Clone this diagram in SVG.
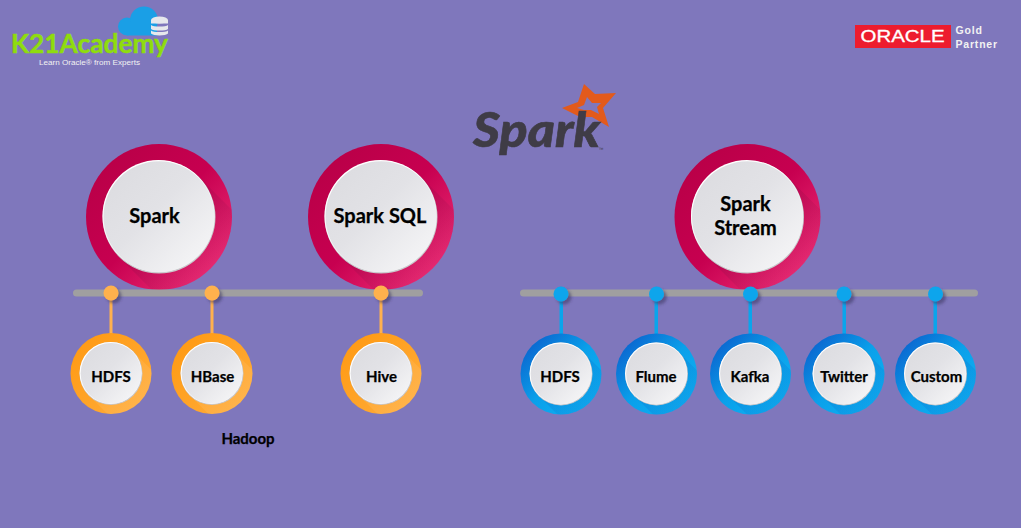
<svg xmlns="http://www.w3.org/2000/svg" width="1021" height="528" viewBox="0 0 1021 528">
<style>
text{font-family:"Lato","Open Sans","Liberation Sans",sans-serif;font-weight:700;fill:#000;text-anchor:middle;stroke:#000;stroke-width:.25px}
.big{font-size:20px}
.small{font-size:15px}
.bar{fill:#a09fa0}
.o{fill:#ffb14e}
.b{fill:#0aa5ec}
</style>
<defs>
<linearGradient id="crimson" x1="0" y1="0" x2="1" y2="1"><stop offset="0" stop-color="#b50045"/><stop offset=".5" stop-color="#c70050"/><stop offset="1" stop-color="#f53a80"/></linearGradient>
<linearGradient id="orange" x1="0" y1="0" x2="1" y2="1"><stop offset="0" stop-color="#ff980f"/><stop offset="1" stop-color="#ffae3e"/></linearGradient>
<linearGradient id="blue" x1="0" y1="0" x2="1" y2="1"><stop offset="0" stop-color="#0b55c8"/><stop offset=".5" stop-color="#0aa0ea"/><stop offset="1" stop-color="#10b4f4"/></linearGradient>
<linearGradient id="face" x1="0" y1="0" x2="1" y2="1"><stop offset="0" stop-color="#dbdbdf"/><stop offset=".45" stop-color="#e2e2e6"/><stop offset="1" stop-color="#f9f9fa"/></linearGradient>
<linearGradient id="shade" x1="0" y1="0" x2="1" y2="0" gradientTransform="rotate(45 .5 .5)"><stop offset="0" stop-color="#5a0a3a" stop-opacity=".22"/><stop offset=".7" stop-color="#5a0a3a" stop-opacity="0"/></linearGradient>
<linearGradient id="shadeW" x1="0" y1="0" x2="1" y2="1"><stop offset="0" stop-color="#fff" stop-opacity=".04"/><stop offset="1" stop-color="#fff" stop-opacity=".14"/></linearGradient>
<linearGradient id="shadeB" x1="0" y1="0" x2="1" y2="1"><stop offset="0" stop-color="#0b3fb0" stop-opacity=".2"/><stop offset="1" stop-color="#0b3fb0" stop-opacity=".02"/></linearGradient>
<clipPath id="cb"><circle r="73"/></clipPath>
<clipPath id="cs"><circle r="40.5"/></clipPath>
<g id="bigNode">
<circle r="73" fill="url(#crimson)"/>
<path d="M40 -40L120 40L40 120L-40 40Z" fill="url(#shade)" clip-path="url(#cb)"/>
<circle r="56.5" fill="#c9c9cc"/>
<circle cx="-.5" cy="-1" r="56" fill="#fff"/>
<circle cy="-.3" r="55.500" fill="url(#face)"/>
</g>
<g id="orangeNode">
<circle r="40.5" fill="url(#orange)"/>
<path d="M22 -22L70 26L26 70L-22 22Z" fill="url(#shadeW)" clip-path="url(#cs)"/>
<circle r="31.5" fill="#c9c9cc"/>
<circle cx="-.4" cy="-.6" r="31" fill="#fff"/>
<circle cy="-.2" r="30.4" fill="url(#face)"/>
</g>
<g id="blueNode">
<circle r="40.5" fill="url(#blue)"/>
<path d="M22 -22L70 26L26 70L-22 22Z" fill="url(#shadeB)" clip-path="url(#cs)"/>
<circle r="31.5" fill="#c9c9cc"/>
<circle cx="-.4" cy="-.6" r="31" fill="#fff"/>
<circle cy="-.2" r="30.4" fill="url(#face)"/>
</g>
<filter id="ds" x="-60%" y="-60%" width="220%" height="220%"><feDropShadow dx="3" dy="3" stdDeviation="1.500" flood-color="#3b3560" flood-opacity=".55"/></filter>
</defs>
<rect width="1021" height="528" fill="#7f77bc"/>

<g id="logo-k21">
<g fill="#1a9fe6">
<circle cx="127" cy="26.500" r="9"/>
<circle cx="144" cy="20.500" r="14"/>
<rect x="127" y="22" width="30" height="13.500"/>
</g>
<g fill="#e6e8ec">
<ellipse cx="159.500" cy="20" rx="8.500" ry="3.500"/>
<rect x="151" y="20" width="17" height="3.500"/>
<path d="M151 25c2 2 15 2 17 0v4c-2 2-15 2-17 0Z"/>
<path d="M151 30.500c2 2 15 2 17 0v3c-2 2.500-15 2.500-17 0Z"/>
</g>
<text x="89.500" y="53" font-size="27" style="font-family:'Lato',sans-serif;font-weight:700;fill:#8fdc0e;stroke:#8fdc0e;stroke-width:.5px" textLength="157" lengthAdjust="spacingAndGlyphs">K21Academy</text>
<text x="89.500" y="64.500" font-size="8.100" style="font-family:'Liberation Sans',sans-serif;font-weight:400;fill:#f2f2f2;stroke:none">Learn Oracle® from Experts</text>
</g>

<g id="logo-oracle">
<rect x="855" y="25" width="96" height="23" fill="#ed1c2e"/>
<text x="902.500" y="42" font-size="16" style="font-family:'Liberation Sans',sans-serif;font-weight:400;fill:#fff;stroke:#fff;stroke-width:.3px" textLength="84" lengthAdjust="spacingAndGlyphs">ORACLE</text>
<text x="955.500" y="33.500" font-size="10.500" style="font-family:'Liberation Sans',sans-serif;fill:#f2f2f2;stroke:none;text-anchor:start;letter-spacing:.8px">Gold</text>
<text x="955.500" y="47.500" font-size="10.500" style="font-family:'Liberation Sans',sans-serif;fill:#f2f2f2;stroke:none;text-anchor:start;letter-spacing:.8px">Partner</text>
</g>

<g id="logo-spark">
<path d="M584 84L595 94L616 93L603 108L609 127L592 117L580 117L562 108L578 102Z M587 97L584 105L577 108L584 110L591 110L599 114L597 107L601 103L592 103Z" fill="#e25a1c" fill-rule="evenodd"/>
<text x="473" y="147" font-size="47" style="font-family:'Lato',sans-serif;font-style:italic;font-weight:900;fill:#3f3c46;stroke:#3f3c46;stroke-width:.6px;text-anchor:start" textLength="127" lengthAdjust="spacingAndGlyphs">Spark</text>
<text x="601" y="151" font-size="5" style="font-family:'Liberation Sans',sans-serif;font-weight:400;fill:#3f3c46;stroke:none">™</text>
</g>

<g id="node-spark"><use href="#bigNode" x="159" y="217"/><text class="big" x="154.500" y="222.500">Spark</text></g>
<g id="node-spark-sql"><use href="#bigNode" x="381" y="217"/><text class="big" x="380" y="222.500">Spark SQL</text></g>
<g id="node-spark-stream"><use href="#bigNode" x="747.500" y="217"/><text class="big" x="745.500" y="210.500">Spark</text><text class="big" x="745.500" y="234.500">Stream</text></g>

<g id="connectors">
<rect class="bar" x="73" y="289.500" width="350" height="7" rx="3.500"/>
<rect class="bar" x="520" y="289.500" width="458" height="7" rx="3.500"/>
<g fill="#ffb14e">
<rect x="109.500" y="293" width="3" height="42"/>
<rect x="210.500" y="293" width="3" height="42"/>
<rect x="379.500" y="293" width="3" height="42"/>
</g>
<g fill="#0aa5ec">
<rect x="559.500" y="293" width="3.500" height="42"/>
<rect x="654.500" y="293" width="3.500" height="42"/>
<rect x="748.500" y="293" width="3.500" height="42"/>
<rect x="842.500" y="293" width="3.500" height="42"/>
<rect x="933.500" y="293" width="3.500" height="42"/>
</g>
<g filter="url(#ds)">
<circle class="o" cx="111" cy="293" r="7.500"/>
<circle class="o" cx="212" cy="293" r="7.500"/>
<circle class="o" cx="381" cy="293" r="7.500"/>
<circle class="b" cx="561" cy="294" r="7.500"/>
<circle class="b" cx="656.500" cy="294" r="7.500"/>
<circle class="b" cx="750.500" cy="294" r="7.500"/>
<circle class="b" cx="844" cy="294" r="7.500"/>
<circle class="b" cx="935.500" cy="294" r="7.500"/>
</g>
</g>

<g id="node-hdfs-1"><use href="#orangeNode" x="111" y="373.500"/><text class="small" x="111" y="382">HDFS</text></g>
<g id="node-hbase"><use href="#orangeNode" x="212" y="373.500"/><text class="small" x="212.500" y="382">HBase</text></g>
<g id="node-hive"><use href="#orangeNode" x="381" y="373.500"/><text class="small" x="381.500" y="382">Hive</text></g>
<text x="248" y="444" font-size="15" id="label-hadoop">Hadoop</text>

<g id="node-hdfs-2"><use href="#blueNode" x="561" y="374"/><text class="small" x="560" y="382">HDFS</text></g>
<g id="node-flume"><use href="#blueNode" x="656.500" y="374"/><text class="small" x="656" y="382">Flume</text></g>
<g id="node-kafka"><use href="#blueNode" x="750.500" y="374"/><text class="small" x="750" y="382">Kafka</text></g>
<g id="node-twitter"><use href="#blueNode" x="844" y="374"/><text class="small" x="844" y="382">Twitter</text></g>
<g id="node-custom"><use href="#blueNode" x="935.500" y="374"/><text class="small" x="936.500" y="382">Custom</text></g>
</svg>
